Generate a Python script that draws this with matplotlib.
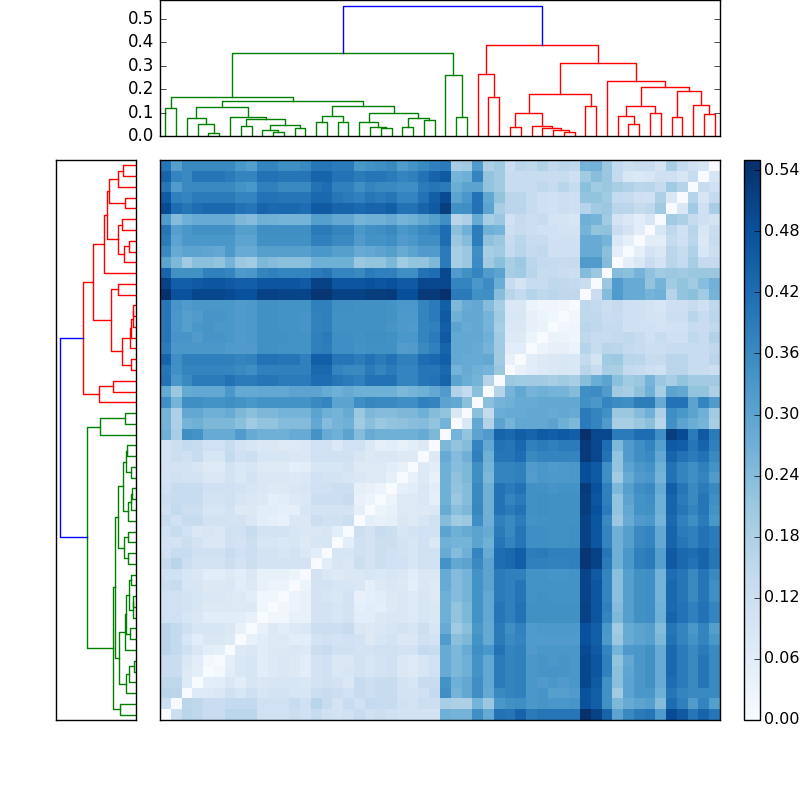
import numpy as np
import matplotlib
matplotlib.use('Agg')
import matplotlib.pyplot as plt

plt.style.use('classic')

# linkage: leaves 0-51 in plotted order, new nodes from 52
merge_left = [4, 3, 2, 10, 9, 12, 56, 7, 59, 6, 54, 14, 16, 63, 20, 19, 18, 22, 24, 69, 68, 65, 62, 0, 75,
              27, 26, 76, 30, 29, 32, 37, 36, 35, 34, 82, 39, 87, 43, 42, 45, 91, 47, 50, 49, 94, 93, 41, 89, 81, 79]
merge_right = [5, 52, 53, 11, 55, 13, 57, 8, 58, 60, 61, 15, 17, 64, 21, 66, 67, 23, 25, 70, 71, 72, 73, 1, 74,
               28, 77, 78, 31, 80, 33, 38, 83, 84, 85, 86, 40, 88, 44, 90, 46, 92, 48, 51, 95, 96, 97, 98, 99, 100, 101]
merge_height = [.011, .053, .075, .019, .024, .035, .048, .043, .072, .083, .123, .059, .059, .087, .032, .039,
                .058, .038, .068, .076, .097, .127, .151, .118, .166, .079, .260, .353, .166, .265, .039, .019,
                .025, .035, .042, .100, .127, .179, .053, .087, .100, .127, .079, .092, .134, .193, .207, .234,
                .312, .387, .552]
n_green = 29  # leaves below this belong to the green cluster

# distances x100, lower triangle, row 0 is the bottom row of the matrix
dist_rows = [
    [],
    [12],
    [16, 15.5],
    [15, 15, 7.4],
    [12.5, 12.5, 7, 5.2],
    [12.5, 12.5, 8, 6, 1],
    [15.5, 14, 11, 8, 6, 5],
    [15.5, 14, 9, 6, 8, 8, 7],
    [15.5, 14, 11.5, 9, 9, 9, 8, 4.2],
    [11, 11, 9, 8, 6, 6, 6, 6, 4],
    [11, 11, 10, 9, 7, 7, 7, 7, 7, 2],
    [11, 11, 10, 9, 8, 8, 7, 7, 6, 2, 2],
    [12, 13, 9, 9, 7, 7, 8, 6, 7, 4, 3, 3],
    [11, 11, 9, 8, 6, 6, 7, 6, 8, 4, 4, 4, 3],
    [13, 16, 12, 10, 10, 10, 12, 10, 12, 10, 10, 10, 10, 10],
    [11, 13, 13, 11, 11, 11, 13, 11, 12, 10, 10, 9, 10, 8, 6],
    [10, 10, 12, 10, 8, 8, 11, 10, 12, 9, 9, 8, 9, 7, 9, 9],
    [11, 13, 11, 8, 9, 8, 11, 11, 13, 10, 10, 10, 9, 8, 8, 9, 6],
    [13, 11, 13, 13, 10, 10, 10, 10, 8, 6, 5, 4, 8, 8, 12, 11, 11, 12],
    [11, 14, 12, 12, 9, 9, 10, 7, 7, 6, 6, 5, 5, 9, 10, 10, 10, 10, 5],
    [12, 13, 13, 13, 10, 10, 11, 9, 8, 7, 5, 6, 7, 8, 12, 12, 12, 13, 4, 3],
    [11, 13, 13, 13, 11, 11, 11, 10, 9, 8, 7, 7, 8, 9, 11, 11, 12, 12, 5, 4, 3],
    [10, 11, 10, 10, 8, 8, 10, 8, 10, 8, 8, 8, 7, 8, 11, 10, 10, 9, 8, 7, 7, 5],
    [10, 10, 10, 9, 7, 7, 10, 8, 9, 7, 7, 7, 5, 6, 9, 9, 9, 10, 7, 7, 7, 6, 4],
    [10, 12, 11, 13, 9, 9, 14, 11, 12, 9, 9, 9, 8, 8, 11, 11, 11, 11, 9, 7, 8, 8, 7, 7],
    [10, 12, 14, 13, 11, 11, 13, 10, 9, 8, 8, 7, 7, 8, 11, 11, 8, 11, 11, 8, 5, 6, 4, 6, 7],
    [27, 19, 35, 34, 28, 28, 28, 32, 28, 27, 27, 27, 28, 28, 34, 28, 27, 30, 24, 28, 27, 27, 27, 27, 28, 25],
    [26, 18, 26, 27, 25, 25, 25, 23, 20, 22, 22, 24, 24, 24, 29, 24, 26, 27, 20, 23, 21, 22, 22.5, 23.5, 24, 22,
     26],
    [26, 18, 29, 29, 27, 27, 28, 25, 23, 25, 25, 26, 26, 26, 30, 27, 26, 28, 21, 25, 24, 24, 25, 25, 27, 24,
     22, 8],
    [35, 26, 35, 35, 34, 34, 35, 34, 33, 34, 34, 34, 34, 34, 36, 37, 30, 30, 35, 36.5, 36, 36, 35, 35, 38, 37,
     30, 29, 23],
    [28.5, 21, 28.5, 29, 29, 29, 33, 28.5, 28.5, 29, 29, 29, 30, 30, 30, 28, 27, 28, 27, 27, 27, 27, 25, 26, 27, 29,
     32, 17, 14, 23],
    [41, 33, 36, 39, 39, 39, 41, 39, 39, 40, 40, 39, 39, 39, 42, 42, 40, 39, 38, 41, 41, 41, 37, 37, 40, 41,
     44, 30, 27.5, 26, 16.5],
    [40, 34.5, 37, 37, 37, 37, 37, 36, 35, 38, 38, 38, 38, 38, 43, 43, 37, 36, 36, 39, 37, 39, 37, 37, 40, 40,
     43, 26, 28, 27, 26, 21],
    [44, 35, 38, 38, 38, 38, 38, 37, 37.5, 41, 41, 40, 40, 38, 45, 45, 40, 40, 38.5, 41, 39, 41, 38, 38, 42, 43,
     45, 29, 28, 28, 29, 20, 4],
    [39, 33, 33, 33, 33, 33, 32, 32, 32, 34.5, 34.5, 34, 34, 34, 38, 38.5, 35, 35, 34, 34.5, 34.5, 34.5, 31.5, 32, 36, 38,
     44, 29, 29, 28, 26, 20, 6, 6],
    [40, 33.5, 33.5, 32, 33.5, 33.5, 33, 32, 32.5, 34.5, 34.5, 34.5, 34, 34, 38, 39, 35, 35, 34.5, 35, 35, 34.5, 33, 33, 37, 39,
     46, 29, 29, 29, 27, 20, 7.5, 7, 3.4],
    [40, 33, 31, 33, 33.5, 33, 33, 32, 32.5, 34.5, 34.5, 34, 34, 33.5, 37.5, 38, 34.5, 34.5, 34.5, 34.5, 34.5, 33.5, 32.5, 32, 37, 38,
     45, 30, 28, 29, 26, 19, 8, 8, 4.5, 3.5],
    [40, 33, 31, 32, 33.5, 33.5, 33, 32, 32.5, 34.5, 34.5, 34, 34, 33.5, 37.5, 38, 34.5, 34.5, 34.5, 34.5, 34.5, 34, 32.5, 32.5, 37, 39,
     46, 27, 29, 29, 26, 20, 8.5, 8.5, 4.5, 3, 2],
    [40, 33.5, 32, 33, 33, 33, 33, 32, 32.5, 34.5, 34.5, 34, 34, 34, 38, 38, 35, 35, 34.5, 34.5, 34.5, 34, 33, 33, 37, 39,
     45, 25, 28, 29, 24, 19, 8, 8, 3, 2, 2.4, 1.8],
    [55, 47.5, 47.5, 50, 50, 50, 49, 48, 48, 51, 51, 50.5, 50.5, 50.5, 53.5, 53.5, 51, 51, 51, 52, 52, 52.5, 48.5, 48.5, 53, 53,
     55, 39, 39, 34.5, 35, 23.5, 16, 14, 16.5, 15, 15.5, 15, 15],
    [51, 45, 45, 46, 47, 47, 46, 45, 45, 47, 47, 47, 47, 46, 51, 51, 47, 47, 47, 48, 47, 48, 46, 46, 50, 50,
     50, 37, 37, 33, 35.5, 27.5, 13, 9.5, 13, 13, 15, 14.5, 14, 12.5],
    [44, 34.5, 34.5, 34.5, 38, 38, 37, 32.5, 33, 37, 38, 37, 37, 37, 39, 40, 37, 37, 36, 39, 38, 38, 35, 35, 41, 42,
     50, 32, 34.5, 37, 32, 30, 19, 20, 16, 13, 13.5, 12.5, 12, 24, 21],
    [30, 25, 20, 23, 23, 22, 26, 21, 20, 25, 24, 23, 23, 23, 27, 27, 27, 27, 21, 22, 22, 25, 20, 22, 22, 25,
     39, 19, 21, 35.5, 20, 23, 18.5, 20.5, 15.5, 14, 13.5, 13, 13.5, 32, 32, 24],
    [36, 28, 30, 30, 29.5, 29, 32.5, 28, 28, 31, 31, 31, 31, 31, 33, 33, 31, 31, 28, 29, 30, 31, 28, 30, 32, 32,
     39, 19, 21, 35, 19, 20, 14, 16, 14, 14.5, 11, 11.5, 11.5, 28, 28, 23, 5.5],
    [39, 30, 33, 33, 33, 33, 33, 30, 30, 34.5, 34.5, 34.5, 34.5, 34.5, 38, 38, 36, 36, 32, 34, 34, 35, 32, 33, 35, 35,
     42, 21, 24, 38.5, 22.5, 21, 13, 15.5, 13, 13, 11, 11, 11, 28, 28, 26, 8, 5],
    [40, 31, 33, 34.5, 34.5, 34.5, 34.5, 31, 31, 35, 35, 35, 35, 35, 39, 39, 37, 37, 33, 34.5, 35, 36, 33, 34, 36, 37,
     42, 23, 27, 38.5, 27, 26, 12, 13, 12, 11, 11, 10, 10, 26, 22, 22.5, 12.5, 10, 6],
    [32, 24, 27, 28, 28, 28, 28, 25, 24, 27, 26.5, 26, 26, 26, 31, 31, 29, 29, 26, 27, 27, 28, 26, 27, 29, 31,
     35, 16, 18, 28, 19, 21, 11, 13.5, 12, 13, 10, 9.5, 9, 27, 26, 20, 10, 8, 6, 9],
    [49, 42, 40, 42, 43, 43, 43, 41, 40, 44, 43, 43, 43, 42, 46, 46, 44, 44, 43, 44, 44, 45, 41, 41, 44, 46,
     52, 34.5, 35, 41, 30, 19, 15.5, 15.5, 13, 11.5, 11, 12, 11.5, 16.5, 20, 21, 16, 15.5, 13.5, 15, 20],
    [46, 38, 37, 39, 39, 39, 39, 37, 37, 41, 41, 40, 40, 40, 43, 43, 40, 39, 38, 40, 39, 40, 37, 37, 41, 45,
     49, 30, 33, 41, 29, 22, 15.5, 15.5, 13, 11.5, 11, 12, 11.5, 22, 22, 20, 14, 13, 11.5, 11, 18, 8],
    [40, 32, 36, 36, 36, 36, 36, 34, 33, 38, 38, 36, 36, 36, 41, 42, 38, 38, 35, 37, 36, 36, 35, 35, 39, 40,
     39, 27.5, 30, 30, 22, 20, 13, 13, 13, 14.5, 13, 16, 13, 23, 20, 21, 19, 17.5, 15.5, 16, 13.5, 20, 16.5],
    [44, 37, 36, 40, 40, 40, 39, 37, 37, 41, 41, 40, 40, 40, 44, 44, 41, 41, 39, 40, 40, 39, 37, 38, 41, 44,
     46, 26, 27, 37, 22, 20, 13, 13, 13, 13, 12.5, 13, 11.5, 20, 23.5, 21, 14, 8.5, 8, 9, 11.5, 11.5, 9, 13],
    [40, 31, 36, 36, 36, 36, 36, 33, 31, 37, 37, 35, 35, 36, 40, 40, 39, 39, 33, 34, 35, 36, 32, 34, 36, 38,
     39, 19, 20, 32, 18, 20, 12, 15.5, 15, 17, 14.5, 15.5, 15, 26, 26.5, 21, 14, 12, 13, 12.5, 9.5, 19, 14, 11, 9],
]
cbar_ticks = [0.00, 0.06, 0.12, 0.18, 0.24, 0.30, 0.36, 0.42, 0.48, 0.54]
top_ticks = [0.0, 0.1, 0.2, 0.3, 0.4, 0.5]

n = len(dist_rows)
D = np.zeros((n, n))
for i, row in enumerate(dist_rows):
    D[i, :i] = np.array(row) / 100.0
    D[:i, i] = D[i, :i]


def link_segments():
    # walk the merges and give back (positions, heights, colour) of every link
    pos = {i: 5.0 + 10 * i for i in range(n)}
    hgt = {i: 0.0 for i in range(n)}
    first = {i: i for i in range(n)}
    last = {i: i for i in range(n)}
    links = []
    for k, (a, b, h) in enumerate(zip(merge_left, merge_right, merge_height)):
        node = n + k
        if last[b] < n_green:
            c = 'g'
        elif first[a] >= n_green:
            c = 'r'
        else:
            c = 'b'
        links.append(([pos[a], pos[a], pos[b], pos[b]], [hgt[a], h, h, hgt[b]], c))
        pos[node] = (pos[a] + pos[b]) / 2
        hgt[node] = h
        first[node] = first[a]
        last[node] = last[b]
    return links


links = link_segments()
top = max(merge_height) * 1.05

fig = plt.figure(figsize=(8, 8), dpi=100, facecolor='white')

# left dendrogram
ax1 = fig.add_axes([0.07, 0.1, 0.1, 0.7])
for p, h, c in links:
    ax1.plot(h, p, color=c)
ax1.set_xlim(top, 0)
ax1.set_ylim(0, n * 10)
ax1.set_xticks([])
ax1.set_yticks([])

# top dendrogram
ax2 = fig.add_axes([0.2, 0.83, 0.7, 0.17])
for p, h, c in links:
    ax2.plot(p, h, color=c)
ax2.set_xlim(0, n * 10)
ax2.set_ylim(0, top)
ax2.set_xticks([])
ax2.set_yticks(top_ticks)

# distance matrix
axmatrix = fig.add_axes([0.2, 0.1, 0.7, 0.7])
im = axmatrix.matshow(D, aspect='auto', origin='lower', cmap='Blues', vmin=0, vmax=D.max())
axmatrix.set_xticks([])
axmatrix.set_yticks([])

axcolor = fig.add_axes([0.93, 0.1, 0.02, 0.7])
cb = fig.colorbar(im, cax=axcolor, ticks=cbar_ticks, format='%.2f')
cb.ax.tick_params(pad=3, labelsize=11.5)

fig.savefig('out.png', dpi=100, facecolor='white')
